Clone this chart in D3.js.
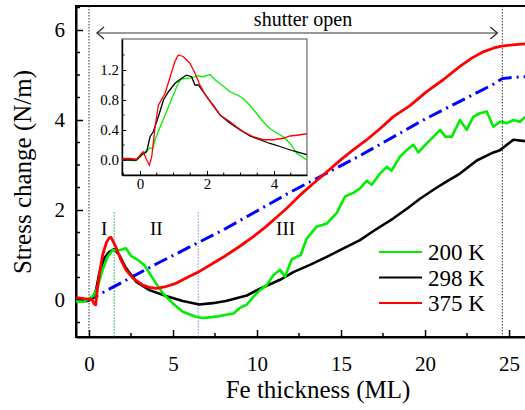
<!DOCTYPE html>
<html>
<head>
<meta charset="utf-8">
<script src="https://cdn.jsdelivr.net/npm/d3@7"></script>
<style>
  body { margin: 0; background: #fff; }
</style>
</head>
<body>
<div id="chart"></div>
<script>
// main panel ticks
const xTicksMain = [0, 5, 10, 15, 20, 25];
const xMinorMain = [2.5, 7.5, 12.5, 17.5, 22.5];
const yTicksMain = [0, 2, 4, 6];
const yMinorMain = [-0.5, 0.5, 1, 1.5, 2.5, 3, 3.5, 4.5, 5, 5.5, 6.5];

// inset ticks
const xTicksInset = [0, 2, 4];
const xMinorInset = [-0.5, 0.5, 1, 1.5, 2.5, 3, 3.5, 4.5];
const yTicksInset = [0.0, 0.4, 0.8, 1.2];
const yMinorInset = [0.2, 0.6, 1.0, 1.4];

const legendLabels = ["200 K", "298 K", "375 K"];
const regionLabels = [["I", 0.9], ["II", 4.0], ["III", 11.7]];
const markerLines = [1.5, 6.5];
const shutterOpen = [0, 24.6];

// main series [thickness ML, stress N/m]
const green200 = [
  [-0.77,-0.03],[-0.3,-0.04],[0,0.03],[0.32,0.11],[0.52,0.3],[0.81,0.67],[1.11,0.96],[1.41,1.11],
  [1.71,1.1],[1.95,1.12],[2.2,1.15],[2.5,0.98],[2.9,0.89],[3.29,0.78],[3.59,0.6],[3.99,0.37],
  [4.39,0.15],[4.98,-0.07],[5.58,-0.26],[6.37,-0.37],[6.77,-0.4],[7.56,-0.37],[8.0,-0.34],
  [8.6,-0.3],[9.0,-0.17],[9.4,-0.1],[9.78,0.07],[10.18,0.22],[10.58,0.33],[10.97,0.55],
  [11.37,0.67],[11.67,0.52],[12.06,0.9],[12.36,0.96],[12.6,1.0],[12.95,1.36],[13.55,1.63],
  [14.15,1.7],[14.74,1.93],[15.24,2.3],[15.73,2.38],[16.13,2.48],[16.53,2.65],[16.83,2.56],
  [17.32,2.81],[17.72,2.96],[18.0,2.87],[18.5,3.18],[18.9,3.33],[19.3,3.45],[19.6,3.28],
  [20.1,3.48],[20.4,3.59],[20.9,3.78],[21.2,3.63],[21.6,3.63],[22.08,4.0],[22.48,3.78],
  [22.87,4.07],[23.27,4.15],[23.67,4.19],[24.07,3.85],[24.46,3.96],[24.86,3.93],[25.26,4.0],
  [25.65,3.96],[25.95,4.07]
];
const black298 = [
  [-0.77,0.0],[0,-0.01],[0.22,0.04],[0.42,0.22],[0.61,0.59],[0.91,0.93],[1.21,1.07],[1.5,1.13],
  [1.8,1.0],[2.2,0.71],[2.8,0.41],[3.6,0.22],[4.58,0.09],[5.58,-0.02],[6.57,-0.1],[7.36,-0.07],
  [8.15,-0.02],[9.39,0.1],[10.18,0.25],[11.37,0.45],[12.16,0.62],[13.15,0.78],[14.15,0.96],
  [15.0,1.12],[16.13,1.33],[17.0,1.55],[18.1,1.81],[19.0,2.05],[19.7,2.25],[20.5,2.45],
  [21.1,2.59],[22.08,2.81],[23.08,3.1],[24.07,3.28],[24.46,3.33],[25.26,3.56],[25.95,3.53]
];
const red375 = [
  [-0.77,0.05],[-0.3,0.03],[0,0.02],[0.2,0.0],[0.3,-0.08],[0.4,-0.11],[0.5,0.25],[0.65,0.65],
  [0.81,1.0],[1.04,1.28],[1.2,1.38],[1.31,1.39],[1.6,1.18],[1.9,0.89],[2.2,0.67],[2.6,0.49],
  [3.2,0.33],[3.6,0.28],[4.0,0.26],[4.58,0.3],[5.18,0.37],[5.96,0.52],[6.55,0.63],[7.36,0.81],
  [8.15,0.99],[9.0,1.2],[9.78,1.41],[10.5,1.62],[11.2,1.85],[11.77,2.04],[12.56,2.33],
  [13.35,2.59],[14.2,2.86],[15.0,3.12],[15.6,3.3],[16.5,3.55],[17.3,3.8],[18.1,4.07],
  [19.1,4.32],[20.1,4.63],[21.1,4.9],[22.08,5.19],[22.8,5.38],[23.5,5.52],[24.1,5.6],
  [24.56,5.64],[25.2,5.67],[25.95,5.69]
];
const blueFit = [
  [-0.2,-0.03],[0,0.0],[4,0.8],[8,1.56],[12,2.4],[16,3.18],[20,4.02],[24,4.78],[24.6,4.92],
  [25.3,4.95],[25.95,4.96]
];

// inset series
const green200Inset = [
  [-0.54,0.0],[-0.3,0.0],[-0.15,-0.01],[0,0.04],[0.15,0.11],[0.3,0.16],[0.38,0.15],[0.45,0.27],
  [0.6,0.44],[0.75,0.6],[0.95,0.82],[1.14,1.02],[1.24,1.08],[1.49,1.09],[1.74,1.12],[1.89,1.11],
  [2.09,1.14],[2.24,1.07],[2.44,1.0],[2.69,0.91],[2.89,0.87],[3.08,0.82],[3.28,0.73],[3.48,0.62],
  [3.68,0.51],[3.88,0.42],[4.08,0.36],[4.28,0.31],[4.48,0.22],[4.68,0.09],[4.98,0.0]
];
const black298Inset = [
  [-0.54,0.0],[-0.1,0.0],[0.05,0.07],[0.2,0.11],[0.3,0.31],[0.4,0.38],[0.55,0.58],[0.7,0.8],
  [0.85,0.91],[1.04,1.02],[1.24,1.09],[1.39,1.13],[1.54,1.11],[1.64,1.0],[1.74,1.0],[1.89,0.91],
  [2.09,0.78],[2.39,0.6],[2.69,0.49],[2.99,0.4],[3.28,0.32],[3.58,0.27],[3.88,0.22],[4.18,0.18],
  [4.58,0.12],[4.98,0.07]
];
const red375Inset = [
  [-0.54,0.02],[-0.3,0.02],[-0.1,0.01],[0.05,0.09],[0.1,0.11],[0.18,0.02],[0.28,-0.07],
  [0.35,0.04],[0.45,0.44],[0.55,0.73],[0.75,0.89],[0.9,1.11],[1.04,1.31],[1.14,1.4],[1.29,1.38],
  [1.49,1.29],[1.64,1.16],[1.79,1.0],[1.99,0.84],[2.19,0.73],[2.39,0.6],[2.69,0.51],[2.89,0.44],
  [3.08,0.38],[3.38,0.31],[3.68,0.27],[3.98,0.27],[4.28,0.29],[4.48,0.32],[4.68,0.33],[4.98,0.35]
];

const colors = {g: "#00ee00", k: "#000000", r: "#ff0000", b: "#0000ff"};
const serif = "'Liberation Serif', 'Times New Roman', Times, 'DejaVu Serif', serif";

const W = 525, H = 410;
const margin = {top: 6, right: 0, bottom: 73, left: 76};
const width = W - margin.left - margin.right;
const height = H - margin.top - margin.bottom;

const svg = d3.select("#chart").append("svg")
    .attr("width", W)
    .attr("height", H)
    .attr("font-family", serif);

const g = svg.append("g")
    .attr("transform", `translate(${margin.left},${margin.top})`);

const x = d3.scaleLinear().domain([-0.774, 25.95]).range([0, width]);
const y = d3.scaleLinear().domain([-0.822, 6.533]).range([height, 0]);

g.append("clipPath").attr("id", "clipMain")
  .append("rect").attr("width", width).attr("height", height);

// frame
g.append("rect")
    .attr("width", width + 2).attr("height", height)
    .attr("fill", "none").attr("stroke", "#000").attr("stroke-width", 2);

// dotted verticals
g.selectAll(".shutter").data(shutterOpen).enter().append("line")
    .attr("x1", d => x(d)).attr("x2", d => x(d))
    .attr("y1", 0).attr("y2", height)
    .attr("stroke", "#333").attr("stroke-width", 1).attr("stroke-dasharray", "1.5,1.5");

g.selectAll(".marker").data(markerLines).enter().append("line")
    .attr("x1", d => x(d)).attr("x2", d => x(d))
    .attr("y1", y(1.95)).attr("y2", height)
    .attr("stroke", (d, i) => i === 0 ? "#22bb66" : "#9999dd")
    .attr("stroke-width", 1.2).attr("stroke-dasharray", "1.5,1.5");

// axes
const xAxis = g.append("g")
    .attr("transform", `translate(0,${height})`)
    .call(d3.axisBottom(x).tickValues(xTicksMain).tickFormat(d3.format("d"))
        .tickSize(-7).tickSizeOuter(0).tickPadding(19));
const yAxis = g.append("g")
    .call(d3.axisLeft(y).tickValues(yTicksMain).tickFormat(d3.format("d"))
        .tickSize(-7).tickSizeOuter(0).tickPadding(11));

[xAxis, yAxis].forEach(a => {
    a.attr("font-family", serif);
    a.select(".domain").attr("stroke-width", 2);
    a.selectAll(".tick line").attr("stroke-width", 1.5);
    a.selectAll("text").attr("font-size", 21);
});

g.selectAll(".xminor").data(xMinorMain).enter().append("line")
    .attr("x1", d => x(d)).attr("x2", d => x(d))
    .attr("y1", height).attr("y2", height - 4)
    .attr("stroke", "#000").attr("stroke-width", 1.5);
g.selectAll(".yminor").data(yMinorMain).enter().append("line")
    .attr("x1", 0).attr("x2", 4)
    .attr("y1", d => y(d)).attr("y2", d => y(d))
    .attr("stroke", "#000").attr("stroke-width", 1.5);

// axis titles
g.append("text")
    .attr("x", 242).attr("y", height + 61)
    .attr("text-anchor", "middle")
    .attr("font-size", 25)
    .text("Fe thickness (ML)");
g.append("text")
    .attr("transform", "rotate(-90)")
    .attr("x", -166).attr("y", -45)
    .attr("text-anchor", "middle")
    .attr("font-size", 25)
    .text("Stress change (N/m)");

// shutter arrow
const arrowY = 27;
g.append("line")
    .attr("x1", x(shutterOpen[0]) + 8).attr("x2", x(shutterOpen[1]) - 5)
    .attr("y1", arrowY).attr("y2", arrowY)
    .attr("stroke", "#777").attr("stroke-width", 1.6);
g.append("path")
    .attr("d", `M${x(shutterOpen[0]) + 15},${arrowY - 6} L${x(shutterOpen[0]) + 8},${arrowY} L${x(shutterOpen[0]) + 15},${arrowY + 6}`)
    .attr("fill", "none").attr("stroke", "#333").attr("stroke-width", 1.4);
g.append("path")
    .attr("d", `M${x(shutterOpen[1]) - 12},${arrowY - 6} L${x(shutterOpen[1]) - 5},${arrowY} L${x(shutterOpen[1]) - 12},${arrowY + 6}`)
    .attr("fill", "none").attr("stroke", "#333").attr("stroke-width", 1.4);
g.append("text")
    .attr("x", 227).attr("y", 20)
    .attr("text-anchor", "middle")
    .attr("font-size", 20)
    .text("shutter open");

// region labels
g.selectAll(".region").data(regionLabels).enter().append("text")
    .attr("x", d => x(d[1])).attr("y", 229)
    .attr("text-anchor", "middle")
    .attr("font-size", 19)
    .text(d => d[0]);

// curves
const line = d3.line().x(d => x(d[0])).y(d => y(d[1]));
const curves = g.append("g").attr("clip-path", "url(#clipMain)");

curves.append("path").datum(blueFit)
    .attr("d", line).attr("fill", "none")
    .attr("stroke", colors.b).attr("stroke-width", 3)
    .attr("stroke-dasharray", "14,5,2,5");
curves.append("path").datum(black298)
    .attr("d", line).attr("fill", "none")
    .attr("stroke", colors.k).attr("stroke-width", 2.6).attr("stroke-linejoin", "round");
curves.append("path").datum(green200)
    .attr("d", line).attr("fill", "none")
    .attr("stroke", colors.g).attr("stroke-width", 2.6).attr("stroke-linejoin", "round");
curves.append("path").datum(red375)
    .attr("d", line).attr("fill", "none")
    .attr("stroke", colors.r).attr("stroke-width", 2.8).attr("stroke-linejoin", "round");

// legend
const legend = g.append("g").attr("transform", "translate(303,246)");
[colors.g, colors.k, colors.r].forEach((c, i) => {
    legend.append("line")
        .attr("x1", 0).attr("x2", 43)
        .attr("y1", i * 25.5).attr("y2", i * 25.5)
        .attr("stroke", c).attr("stroke-width", 2);
    legend.append("text")
        .attr("x", 49).attr("y", i * 25.5 + 8)
        .attr("font-size", 23)
        .text(legendLabels[i]);
});

// inset
const inset = {left: 122, top: 39, right: 307, bottom: 175};
const iw = inset.right - inset.left, ih = inset.bottom - inset.top;
const ig = svg.append("g").attr("transform", `translate(${inset.left},${inset.top})`);

const xi = d3.scaleLinear().domain([-0.537, 4.985]).range([0, iw]);
const yi = d3.scaleLinear().domain([-0.2, 1.613]).range([ih, 0]);

ig.append("rect").attr("width", iw).attr("height", ih)
    .attr("fill", "#fff").attr("stroke", "#666").attr("stroke-width", 1.2);

ig.append("clipPath").attr("id", "clipInset")
  .append("rect").attr("width", iw).attr("height", ih);

const xiAxis = ig.append("g")
    .attr("transform", `translate(0,${ih})`)
    .call(d3.axisBottom(xi).tickValues(xTicksInset).tickFormat(d3.format("d"))
        .tickSize(-4).tickSizeOuter(0).tickPadding(3));
const yiAxis = ig.append("g")
    .call(d3.axisLeft(yi).tickValues(yTicksInset).tickFormat(d3.format(".1f"))
        .tickSize(-4).tickSizeOuter(0).tickPadding(3));
[xiAxis, yiAxis].forEach(a => {
    a.attr("font-family", serif);
    a.select(".domain").attr("stroke-width", 1.4);
    a.selectAll("text").attr("font-size", 15);
});
ig.selectAll(".xminor").data(xMinorInset).enter().append("line")
    .attr("x1", d => xi(d)).attr("x2", d => xi(d))
    .attr("y1", ih).attr("y2", ih - 2.5)
    .attr("stroke", "#000");
ig.selectAll(".yminor").data(yMinorInset).enter().append("line")
    .attr("x1", 0).attr("x2", 2.5)
    .attr("y1", d => yi(d)).attr("y2", d => yi(d))
    .attr("stroke", "#000");

const iline = d3.line().x(d => xi(d[0])).y(d => yi(d[1]));
const icurves = ig.append("g").attr("clip-path", "url(#clipInset)");
[[green200Inset, colors.g], [black298Inset, colors.k], [red375Inset, colors.r]].forEach(([data, c]) => {
    icurves.append("path").datum(data)
        .attr("d", iline).attr("fill", "none")
        .attr("stroke", c).attr("stroke-width", 1.3);
});
</script>
</body>
</html>
